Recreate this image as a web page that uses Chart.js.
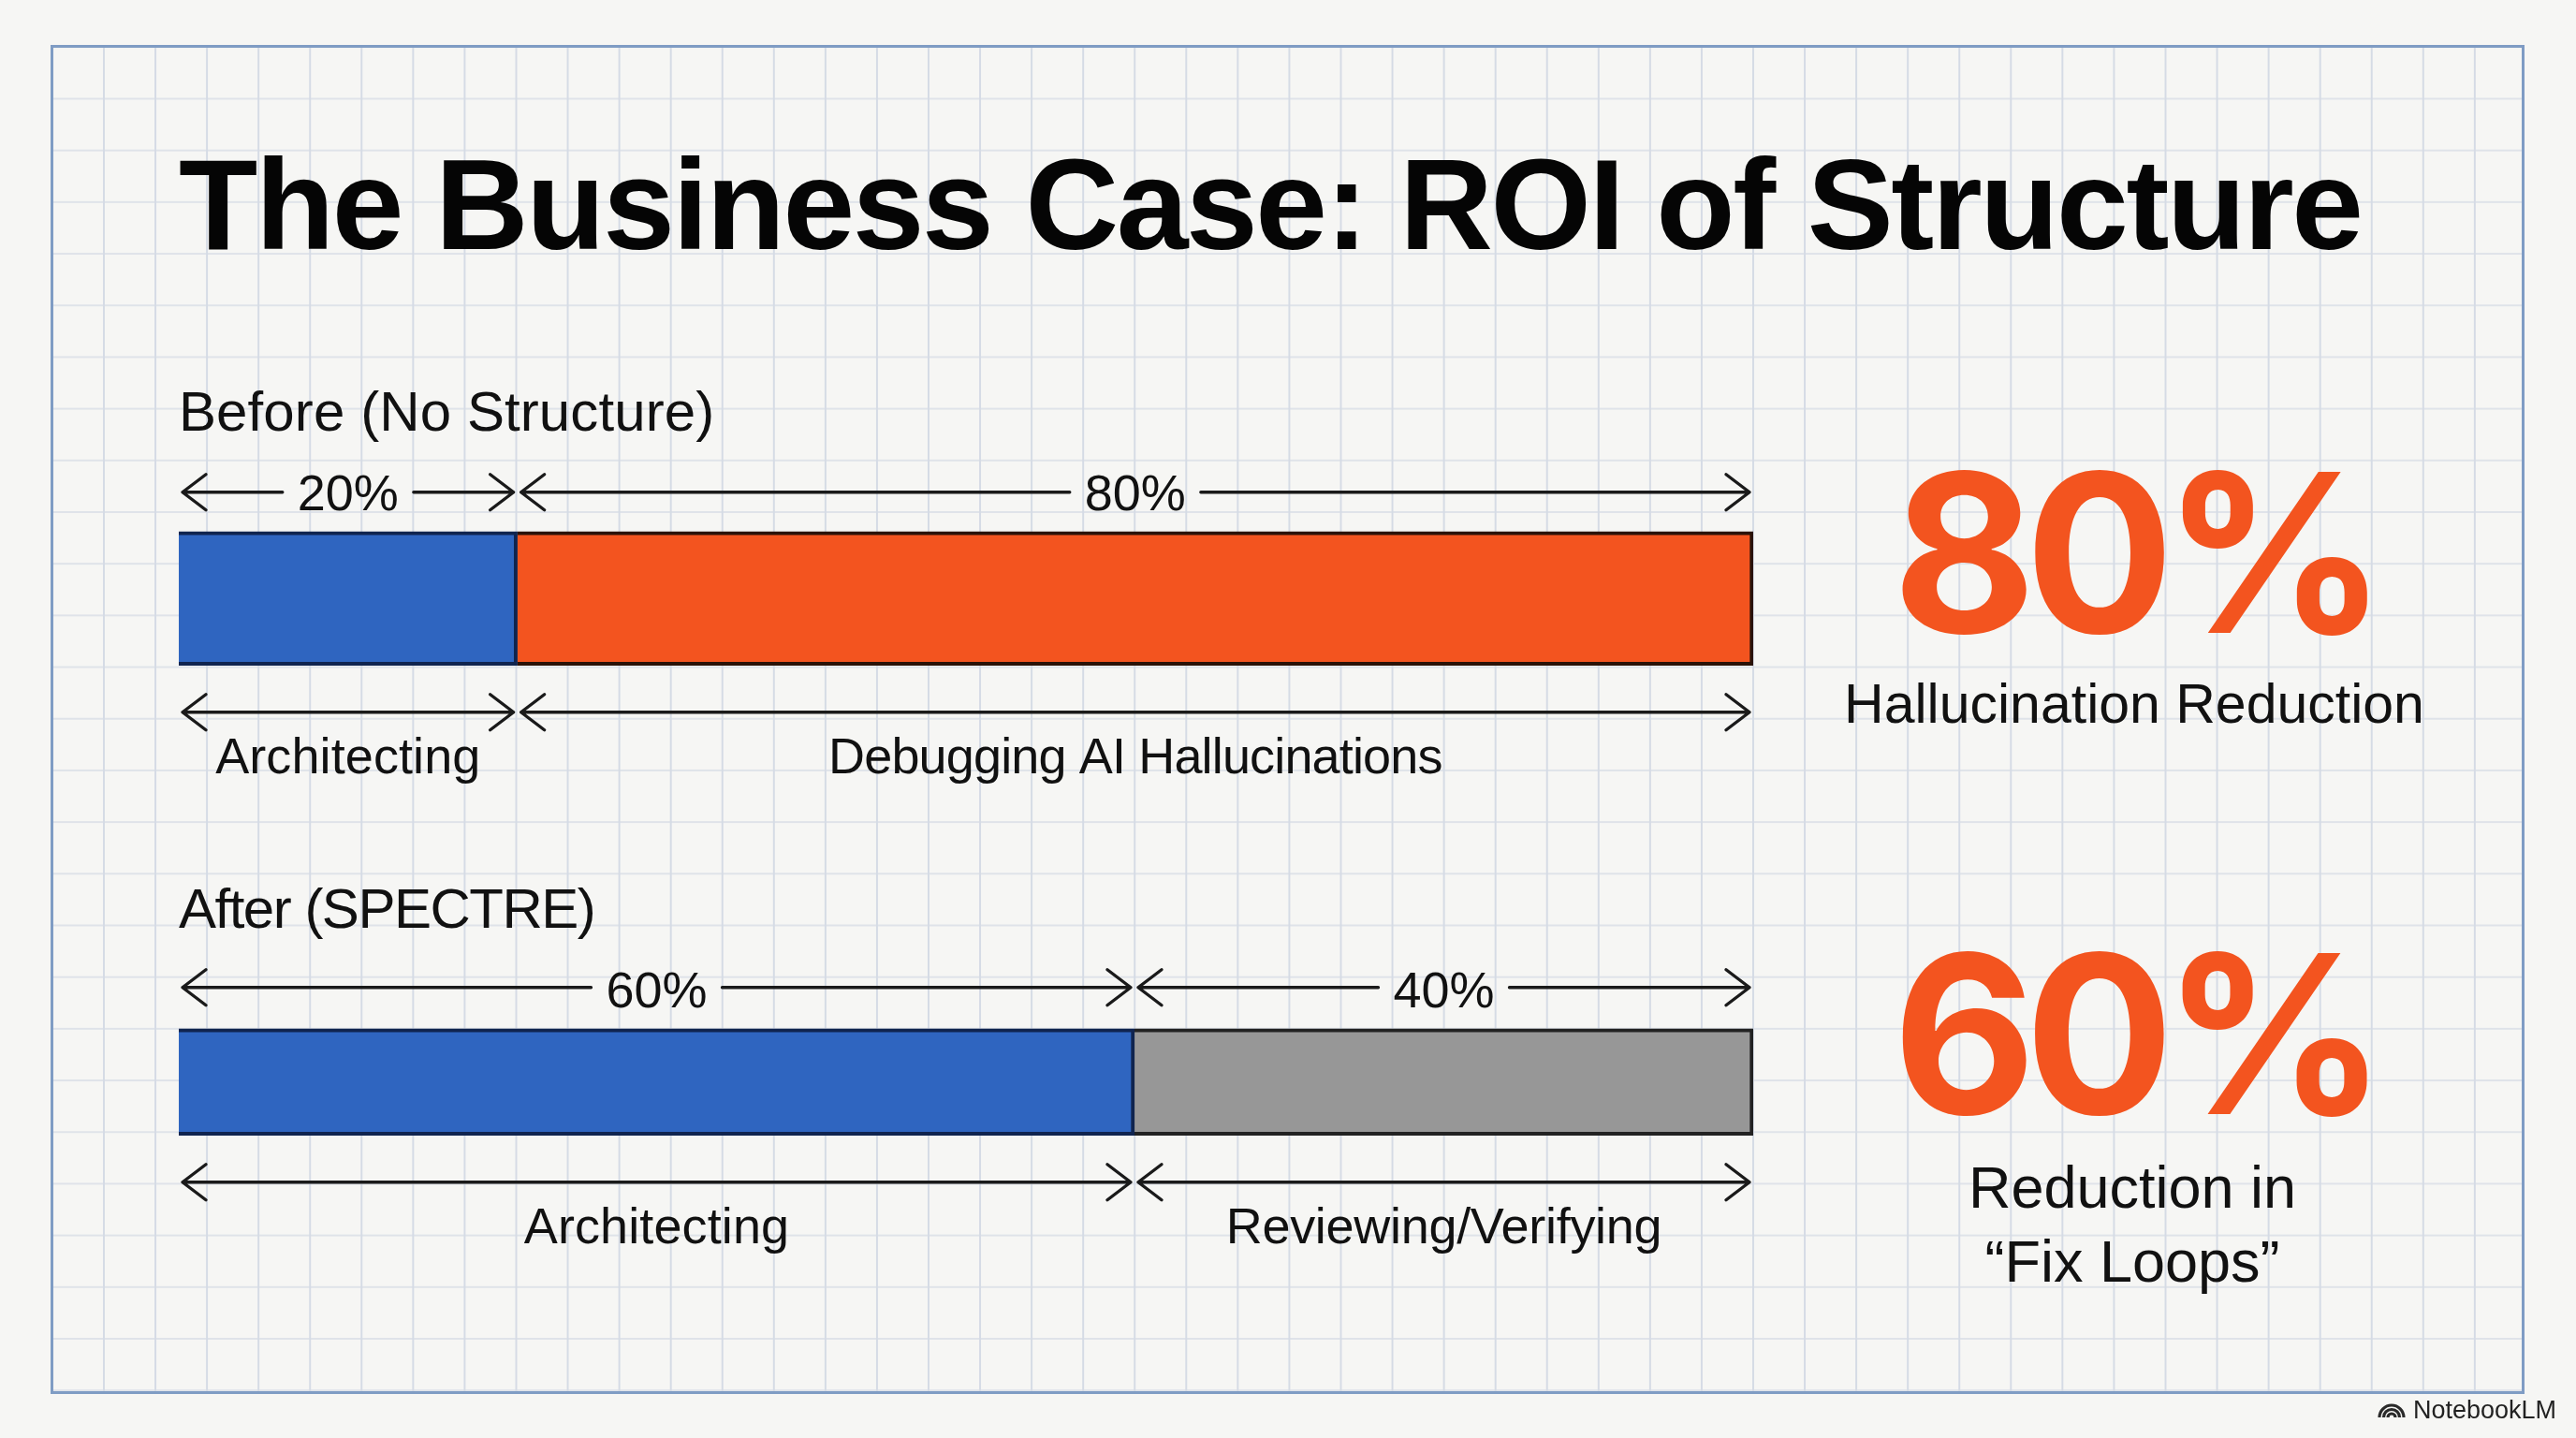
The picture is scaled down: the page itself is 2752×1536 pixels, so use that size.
<!DOCTYPE html>
<html>
<head>
<meta charset="utf-8">
<title>The Business Case: ROI of Structure</title>
<script src="https://cdn.jsdelivr.net/npm/chart.js@4"></script>
<style>
  html, body { margin: 0; padding: 0; background: #f6f6f4; }
  #page { position: relative; width: 2752px; height: 1536px; overflow: hidden; }
  #paper {
    position: absolute; left: 54px; top: 48px; width: 2637px; height: 1435px;
    border: 3px solid #7f9cc4;
    background-image:
      linear-gradient(to right, #d5dbe5 2px, transparent 2px),
      linear-gradient(to bottom, #dfe3e9 2px, transparent 2px);
    background-size: 55.07px 55.2px;
    background-position: 53px 53.5px;
  }
  canvas { position: absolute; left: 0; top: 0; }
</style>
</head>
<body>
<div id="page">
  <div id="paper"></div>
  <canvas id="chart" width="2752" height="1536"></canvas>
</div>
<script>
const titleText = 'The Business Case: ROI of Structure';
const rows = ['Before (No Structure)', 'After (SPECTRE)'];

// widths as the bars are drawn in the picture, the printed labels round them
const beforeWidths = [21.5, 78.5];
const afterWidths = [60.7, 39.3];
const beforeLabels = ['20%', '80%'];
const afterLabels = ['60%', '40%'];
const beforeNames = ['Architecting', 'Debugging AI Hallucinations'];
const afterNames = ['Architecting', 'Reviewing/Verifying'];

const calloutBig = ['80%', '60%'];
const calloutText = [['Hallucination Reduction'], ['Reduction in', '“Fix Loops”']];

const BLUE = '#2f65c0';
const ORANGE = '#f3541f';
const GREY = '#979797';
const FONT = '"Liberation Sans", Arial, sans-serif';
const INK = '#111111';

function arrow(ctx, x0, x1, y, gapLabelWidth) {
  const head = 25, spread = 19;
  ctx.beginPath();
  if (gapLabelWidth) {
    const mid = (x0 + x1) / 2;
    ctx.moveTo(x0, y); ctx.lineTo(mid - gapLabelWidth / 2, y);
    ctx.moveTo(mid + gapLabelWidth / 2, y); ctx.lineTo(x1, y);
  } else {
    ctx.moveTo(x0, y); ctx.lineTo(x1, y);
  }
  ctx.moveTo(x0 + head, y - spread); ctx.lineTo(x0, y); ctx.lineTo(x0 + head, y + spread);
  ctx.moveTo(x1 - head, y - spread); ctx.lineTo(x1, y); ctx.lineTo(x1 - head, y + spread);
  ctx.stroke();
}

function text(ctx, str, x, y, size, weight, color, align, spacing, family) {
  ctx.font = (weight || 'normal') + ' ' + size + 'px ' + (family || FONT);
  ctx.letterSpacing = (spacing || 0) + 'px';
  ctx.fillStyle = color || INK;
  ctx.textAlign = align || 'center';
  ctx.textBaseline = 'alphabetic';
  ctx.fillText(str, x, y);
  ctx.letterSpacing = '0px';
}

function drawRow(chart, rowIndex, widths, labels, names, barH, headSpacing, nameSpacing, arrowUp) {
  const ctx = chart.ctx;
  const xs = chart.scales.x;
  const cy = chart.scales.y.getPixelForValue(rowIndex);
  const top = cy - barH / 2, bottom = cy + barH / 2;
  const edges = [0, widths[0], widths[0] + widths[1]].map(v => xs.getPixelForValue(v));

  text(ctx, rows[rowIndex], xs.left, top - 108, 60, 'normal', INK, 'left', headSpacing);
  ctx.strokeStyle = '#1a1a1a';
  ctx.lineWidth = 3.4;
  ctx.lineCap = 'round';
  ctx.lineJoin = 'round';
  for (let i = 0; i < 2; i++) {
    const x0 = edges[i] + 4, x1 = edges[i + 1] - 4;
    ctx.font = '54px ' + FONT;
    const w = ctx.measureText(labels[i]).width + 32;
    arrow(ctx, x0, x1, top - arrowUp, w);
    text(ctx, labels[i], (edges[i] + edges[i + 1]) / 2, top - 23, 54);
    arrow(ctx, x0, x1, bottom + 50);
    text(ctx, names[i], (edges[i] + edges[i + 1]) / 2, bottom + 115, 54, 'normal', INK, 'center', nameSpacing[i]);
  }
}

const annotations = {
  id: 'annotations',
  afterDatasetsDraw(chart) {
    const ctx = chart.ctx;
    ctx.save();
    text(ctx, titleText, 191, 266, 138, 'bold', '#050505', 'left', -2.4);
    drawRow(chart, 0, beforeWidths, beforeLabels, beforeNames, 143, 0.1, [0.1, -0.85], 42);
    drawRow(chart, 1, afterWidths, afterLabels, afterNames, 114, -1.5, [0.1, -0.3], 44);

    text(ctx, calloutBig[0], 2280, 676, 236, '700', ORANGE, 'center', -12, 'Inter');
    text(ctx, calloutText[0][0], 2280, 772, 59);
    text(ctx, calloutBig[1], 2280, 1190, 236, '700', ORANGE, 'center', -12, 'Inter');
    text(ctx, calloutText[1][0], 2278, 1290, 63);
    text(ctx, calloutText[1][1], 2278, 1369, 63);

    // NotebookLM mark
    ctx.strokeStyle = '#2a2a2a';
    ctx.lineWidth = 3.2;
    ctx.lineCap = 'butt';
    [13, 8.5, 4].forEach(r => {
      ctx.beginPath();
      ctx.arc(2555, 1514, r, Math.PI, 0);
      ctx.stroke();
    });
    text(ctx, 'NotebookLM', 2578, 1515, 27, 'normal', '#222222', 'left');
    ctx.restore();
  }
};

new Chart(document.getElementById('chart'), {
  type: 'bar',
  data: {
    labels: rows,
    datasets: [
      { data: [beforeWidths[0], null], backgroundColor: BLUE, barThickness: 143, borderColor: '#10244f' },
      { data: [beforeWidths[1], null], backgroundColor: ORANGE, barThickness: 143, borderColor: '#2a1208' },
      { data: [null, afterWidths[0]], backgroundColor: BLUE, barThickness: 114, borderColor: '#10244f' },
      { data: [null, afterWidths[1]], backgroundColor: GREY, barThickness: 114, borderColor: '#222222' }
    ]
  },
  options: {
    indexAxis: 'y',
    responsive: false,
    animation: false,
    layout: { padding: { left: 191, right: 879, top: 381, bottom: 122 } },
    elements: { bar: { borderWidth: 4 } },
    scales: {
      x: { stacked: true, min: 0, max: 100, display: false },
      y: { stacked: true, display: false }
    },
    plugins: { legend: { display: false }, tooltip: { enabled: false } }
  },
  plugins: [annotations]
});
</script>
</body>
</html>
